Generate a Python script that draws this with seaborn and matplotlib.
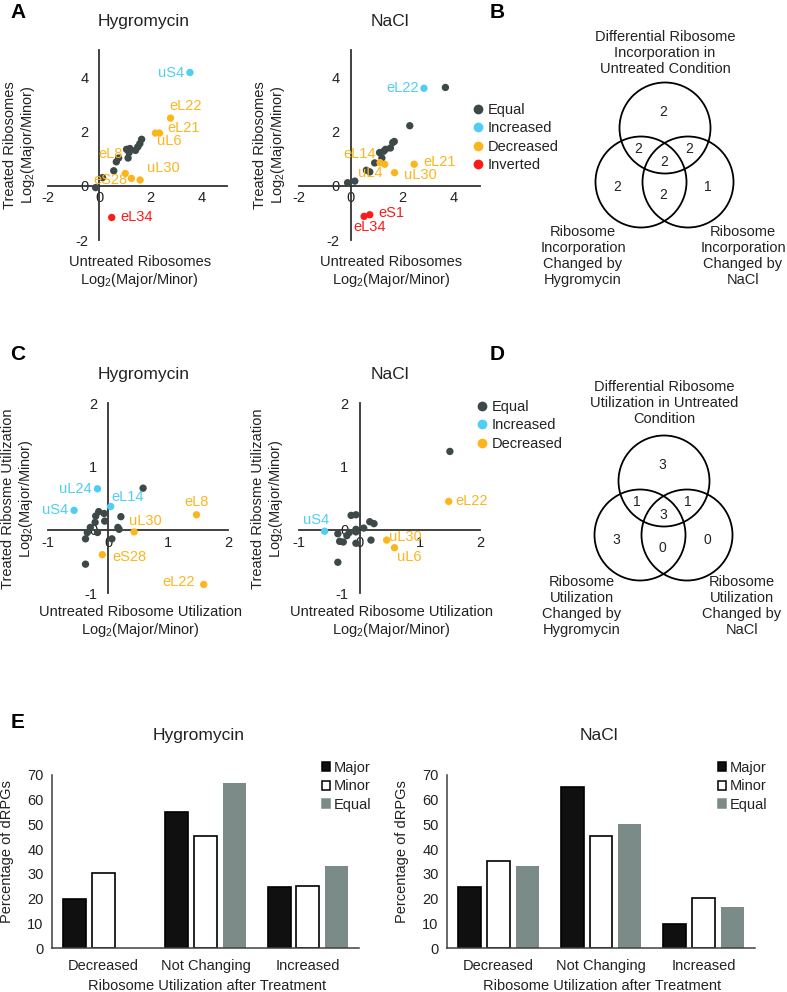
import matplotlib
matplotlib.use("Agg")
import matplotlib.pyplot as plt
from matplotlib.lines import Line2D
from matplotlib.patches import Circle, Patch
import pandas as pd
import seaborn as sns

# ---------------- data ----------------
CATS_A = ["Equal", "Increased", "Decreased", "Inverted"]
CATS_C = ["Equal", "Increased", "Decreased"]

# A - Hygromycin (incorporation)
A_HYG_X = [1.65, 1.58, 1.50, 1.41, 1.19, 1.06, 1.16, 1.12, 0.75, 0.66, 0.56, 0.12, -0.15,
           3.54, 2.78, 2.19, 2.35, 1.01, 1.25, 1.59, 0.48]
A_HYG_Y = [1.71, 1.55, 1.43, 1.30, 1.37, 1.34, 1.22, 1.02, 1.02, 0.88, 0.55, 0.30, -0.07,
           4.17, 2.49, 1.94, 1.94, 0.45, 0.27, 0.21, -1.17]
A_HYG_CAT = ["Equal"] * 13 + ["Increased"] + ["Decreased"] * 6 + ["Inverted"]
A_HYG_LABEL = [""] * 13 + ["uS4", "eL22", "eL21", "uL6", "eL8", "eS28", "uL30", "eL34"]

# A - NaCl (incorporation)
A_NACL_X = [3.66, 2.28, 1.68, 1.62, 1.53, 1.34, 1.27, 1.11, 1.20, 0.92, 0.73, 0.60, 0.15, -0.13,
            2.83, 1.13, 1.31, 1.69, 2.45, 0.73, 0.51]
A_NACL_Y = [3.62, 2.21, 1.63, 1.59, 1.39, 1.34, 1.27, 1.22, 1.02, 0.84, 0.51, 0.57, 0.17, 0.11,
            3.59, 0.85, 0.79, 0.48, 0.79, -1.07, -1.13]
A_NACL_CAT = ["Equal"] * 14 + ["Increased"] + ["Decreased"] * 4 + ["Inverted"] * 2
A_NACL_LABEL = [""] * 14 + ["eL22", "eL14", "uL4", "uL30", "eL21", "eS1", "eL34"]

# C - Hygromycin (utilization)
C_HYG_X = [0.58, -0.16, -0.21, -0.07, -0.06, -0.22, -0.30, -0.35, -0.38, -0.18, 0.06, 0.21, 0.16, 0.18, -0.38,
           -0.18, 0.04, -0.57, 1.47, 0.43, -0.10, 1.59]
C_HYG_Y = [0.66, 0.29, 0.22, 0.26, 0.14, 0.12, 0.04, -0.04, -0.14, -0.04, -0.14, 0.21, 0.04, 0.01, -0.54,
           0.65, 0.37, 0.31, 0.24, -0.03, -0.39, -0.86]
C_HYG_CAT = ["Equal"] * 15 + ["Increased"] * 3 + ["Decreased"] * 4
C_HYG_LABEL = [""] * 15 + ["uL24", "eL14", "uS4", "eL8", "uL30", "eS28", "eL22"]

# C - NaCl (utilization)
C_NACL_X = [1.50, -0.14, -0.06, 0.17, 0.24, 0.07, -0.06, -0.06, -0.17, -0.21, -0.36, -0.33, -0.27, -0.06, 0.19, -0.36,
            -0.58, 1.48, 0.45, 0.58]
C_NACL_Y = [1.24, 0.23, 0.24, 0.13, 0.10, 0.03, 0.01, -0.03, -0.04, -0.09, -0.06, -0.18, -0.19, -0.21, -0.16, -0.51,
            -0.02, 0.45, -0.16, -0.28]
C_NACL_CAT = ["Equal"] * 16 + ["Increased"] + ["Decreased"] * 3
C_NACL_LABEL = [""] * 16 + ["uS4", "eL22", "uL30", "uL6"]

# B / D venn counts: top, top&left, top&right, all, left, left&right, right
B_COUNTS = [2, 2, 2, 2, 2, 2, 1]
D_COUNTS = [3, 1, 1, 3, 3, 0, 0]

# E - percentage of dRPGs
OUTCOMES = ["Decreased", "Not Changing", "Increased"]
GROUPS = ["Major", "Minor", "Equal"]
E_HYG_MAJOR = [19.8, 54.9, 24.6]
E_HYG_MINOR = [30.3, 45.5, 24.9]
E_HYG_EQUAL = [0.0, 66.7, 33.3]
E_NACL_MAJOR = [24.6, 65.1, 9.7]
E_NACL_MINOR = [35.2, 45.4, 20.1]
E_NACL_EQUAL = [33.1, 50.1, 16.4]

# ---------------- style ----------------
sns.set_theme(style="white")
plt.rcParams["font.family"] = ["Liberation Sans", "DejaVu Sans"]
plt.rcParams["mathtext.fontset"] = "custom"
plt.rcParams["mathtext.rm"] = "Liberation Sans"
plt.rcParams["axes.unicode_minus"] = False

DOT = {"Equal": "#3d4848", "Increased": "#50cdf3", "Decreased": "#fdb51e", "Inverted": "#ff1a1a"}
BAR = {"Major": "#101010", "Minor": "#ffffff", "Equal": "#7a8b88"}
INK = "#222222"
AXC = "#333333"
LOG2 = "Log$_{\\mathregular{2}}$(Major/Minor)"

W, H = 787, 992
fig = plt.figure(figsize=(W / 100, H / 100), dpi=100)


def px_axes(left, top, right, bottom):
    return fig.add_axes([left / W, 1 - bottom / H, (right - left) / W, (bottom - top) / H])


# label offsets (points) and alignment
OFF_A_HYG = {"uS4": (-4, 0, "right"), "eL22": (-1, 9, "left"), "eL21": (8.5, 3.5, "left"),
             "uL6": (-2, -6, "left"), "eL8": (-1.5, 14, "right"), "eS28": (-3, -1, "right"),
             "uL30": (5, 8.5, "left"), "eL34": (6, 0, "left")}
OFF_A_NACL = {"eL22": (-4, 0, "right"), "eL14": (-3, 6, "right"), "uL4": (-1.5, -6.5, "right"),
              "uL30": (6.5, -1.5, "left"), "eL21": (6.5, 1.5, "left"), "eS1": (6.5, 1.5, "left"),
              "eL34": (-8, -8, "left")}
OFF_C_HYG = {"uL24": (-4.5, 0, "right"), "eL14": (0.5, 7, "left"), "uS4": (-4, 0, "right"),
             "eL8": (0, 9.5, "center"), "uL30": (-4, 8, "left"), "eS28": (7, -1.5, "left"),
             "eL22": (-6, 1.5, "right")}
OFF_C_NACL = {"uS4": (3, 8, "right"), "eL22": (4.5, 0, "left"), "uL30": (2, 2, "left"),
              "uL6": (2, -6.5, "left")}


def scatter_panel(ax, xs, ys, cats, labels, order, lim, ticks, title, title_x, ylab,
                  ylab_x, xlab, xlab_y, offsets):
    df = pd.DataFrame({"x": xs, "y": ys, "cat": cats, "label": labels})
    sns.scatterplot(data=df, x="x", y="y", hue="cat", hue_order=order, palette=DOT,
                    s=28, linewidth=0, legend=False, ax=ax, zorder=3)
    for _, r in df[df["label"] != ""].iterrows():
        dx, dy, ha = offsets[r["label"]]
        ax.annotate(r["label"], (r["x"], r["y"]), xytext=(dx, dy), textcoords="offset points",
                    ha=ha, va="center", color=DOT[r["cat"]], fontsize=10.5)
    ax.set_xlim(*lim[0])
    ax.set_ylim(*lim[1])
    ax.set_xticks(ticks[0])
    ax.set_yticks(ticks[1])
    for side in ("top", "right"):
        ax.spines[side].set_visible(False)
    for side in ("left", "bottom"):
        ax.spines[side].set_position(("data", 0))
        ax.spines[side].set_color(AXC)
        ax.spines[side].set_linewidth(1.3)
    ax.tick_params(axis="both", direction="inout", length=6, width=1.2, color=AXC,
                   labelsize=10.5, labelcolor=INK)
    ax.tick_params(axis="x", pad=1)
    ax.tick_params(axis="y", pad=5)
    ax.set_facecolor("none")
    ax.set_xlabel("")
    ax.set_ylabel("")
    ax.text(title_x, 1.15, title, transform=ax.transAxes, ha="center", va="center",
            fontsize=12.5, color=INK)
    ax.set_ylabel(ylab, fontsize=10.5, color=INK, linespacing=1.15)
    ax.yaxis.set_label_coords(ylab_x, 0.5)
    ax.set_xlabel(xlab, fontsize=10.5, color=INK, linespacing=1.15)
    ax.xaxis.set_label_coords(0.51, xlab_y)


def dot_legend(ax, order, anchor):
    handles = [Line2D([], [], marker="o", ls="", color=DOT[c], markersize=6, label=c) for c in order]
    ax.legend(handles=handles, loc="upper left", bbox_to_anchor=anchor, bbox_transform=fig.transFigure,
              frameon=False, fontsize=10.5, handlelength=0.8, handletextpad=0.25,
              labelspacing=0.3, borderpad=0, borderaxespad=0, labelcolor=INK)


# ---- A ----
ax = px_axes(48.3, 50, 227.3, 240)
scatter_panel(ax, A_HYG_X, A_HYG_Y, A_HYG_CAT, A_HYG_LABEL, CATS_A, ((-2, 5), (-2, 5)),
              ([-2, 0, 2, 4], [-2, 0, 2, 4]), "Hygromycin", 0.53,
              "Treated Ribosomes\n" + LOG2, -0.063, "Untreated Ribosomes\n" + LOG2, -0.08, OFF_A_HYG)
ax = px_axes(299.3, 50, 480, 240)
scatter_panel(ax, A_NACL_X, A_NACL_Y, A_NACL_CAT, A_NACL_LABEL, CATS_A, ((-2, 5), (-2, 5)),
              ([-2, 0, 2, 4], [-2, 0, 2, 4]), "NaCl", 0.5,
              "Treated Ribosomes\n" + LOG2, -0.068, "Untreated Ribosomes\n" + LOG2, -0.08, OFF_A_NACL)
dot_legend(ax, CATS_A, (472 / W, 1 - 103 / H))

# ---- C ----
ax = px_axes(48.3, 403.3, 228.3, 593.3)
scatter_panel(ax, C_HYG_X, C_HYG_Y, C_HYG_CAT, C_HYG_LABEL, CATS_C, ((-1, 2), (-1, 2)),
              ([-1, 0, 1, 2], [-1, 0, 1, 2]), "Hygromycin", 0.53,
              "Treated Ribosme Utilization\n" + LOG2, -0.074,
              "Untreated Ribosome Utilization\n" + LOG2, -0.062, OFF_C_HYG)
ax = px_axes(299.3, 403.3, 480, 593.3)
scatter_panel(ax, C_NACL_X, C_NACL_Y, C_NACL_CAT, C_NACL_LABEL, CATS_C, ((-1, 2), (-1, 2)),
              ([-1, 0, 1, 2], [-1, 0, 1, 2]), "NaCl", 0.5,
              "Treated Ribosme Utilization\n" + LOG2, -0.079,
              "Untreated Ribosome Utilization\n" + LOG2, -0.062, OFF_C_NACL)
dot_legend(ax, CATS_C, (476 / W, 1 - 400 / H))


# ---- E ----
def bar_panel(ax, major, minor, equal, title, title_x, legend_anchor):
    df = pd.DataFrame({
        "outcome": OUTCOMES * 3,
        "group": ["Major"] * 3 + ["Minor"] * 3 + ["Equal"] * 3,
        "pct": major + minor + equal,
    })
    sns.barplot(data=df, x="outcome", y="pct", hue="group", order=OUTCOMES, hue_order=GROUPS,
                palette=BAR, saturation=1, width=0.84, gap=0.2, edgecolor="black",
                linewidth=1.2, legend=False, ax=ax)
    for bar in ax.containers[2]:
        bar.set_edgecolor(BAR["Equal"])
        bar.set_linewidth(0)
    ax.set_xlim(-0.5, 2.5)
    ax.set_ylim(0, 70)
    ax.set_yticks(range(0, 71, 10))
    for side in ("top", "right"):
        ax.spines[side].set_visible(False)
    for side in ("left", "bottom"):
        ax.spines[side].set_color("#404040")
        ax.spines[side].set_linewidth(1.1)
    ax.tick_params(axis="y", direction="out", length=4, width=1, color="#404040",
                   labelsize=10.5, labelcolor=INK, pad=2)
    ax.tick_params(axis="x", length=0, labelsize=10.5, labelcolor=INK, pad=8)
    ax.set_ylabel("Percentage of dRPGs", fontsize=10.5, color=INK)
    ax.yaxis.set_label_coords(-0.124, 0.555)
    ax.set_xlabel("Ribosome Utilization after Treatment", fontsize=10.5, color=INK)
    ax.xaxis.set_label_coords(0.505, -0.182)
    ax.text(title_x, 1.23, title, transform=ax.transAxes, ha="center", va="center",
            fontsize=12.5, color=INK)
    handles = [Patch(facecolor=BAR[g], edgecolor="black" if g != "Equal" else BAR[g],
                     linewidth=1.1, label=g) for g in GROUPS]
    ax.legend(handles=handles, loc="upper left", bbox_to_anchor=legend_anchor,
              bbox_transform=fig.transFigure, frameon=False, fontsize=10.5,
              handlelength=0.55, handleheight=0.55, handletextpad=0.25,
              labelspacing=0.3, borderpad=0, borderaxespad=0, labelcolor=INK)


ax = px_axes(52, 775, 359, 948)
bar_panel(ax, E_HYG_MAJOR, E_HYG_MINOR, E_HYG_EQUAL, "Hygromycin", 0.476, (322 / W, 1 - 761 / H))
ax = px_axes(447, 775, 755, 948)
bar_panel(ax, E_NACL_MAJOR, E_NACL_MINOR, E_NACL_EQUAL, "NaCl", 0.494, (718 / W, 1 - 761 / H))

# ---- overlay: venn diagrams and panel letters (pixel coordinates) ----
ov = fig.add_axes([0, 0, 1, 1])
ov.set_xlim(0, W)
ov.set_ylim(H, 0)
ov.axis("off")
ov.set_facecolor("none")

VENN_R = 45.5
VENN_CIRCLES = [(0, 0), (-24, 54), (23, 54)]
VENN_SPOTS = [(-2, -16), (-27, 21), (24, 21), (-1, 34), (-48, 59), (-2, 67), (43, 59)]


def venn(cx, cy, counts, title, left_text, right_text, title_dy, label_dy):
    for dx, dy in VENN_CIRCLES:
        ov.add_patch(Circle((cx + dx, cy + dy), VENN_R, fill=False, ec="black", lw=1.3))
    for (dx, dy), n in zip(VENN_SPOTS, counts):
        ov.text(cx + dx, cy + dy, str(n), ha="center", va="center", fontsize=10, color=INK)
    kw = dict(ha="center", va="center", fontsize=10.5, color=INK, linespacing=1.2)
    ov.text(cx, cy - title_dy, title, **kw)
    ov.text(cx - 82, cy + label_dy, left_text, **kw)
    ov.text(cx + 78, cy + label_dy, right_text, **kw)


venn(665, 128, B_COUNTS, "Differential Ribosome\nIncorporation in\nUntreated Condition",
     "Ribosome\nIncorporation\nChanged by\nHygromycin", "Ribosome\nIncorporation\nChanged by\nNaCl", 75, 128)
venn(664, 481, D_COUNTS, "Differential Ribosome\nUtilization in Untreated\nCondition",
     "Ribosome\nUtilization\nChanged by\nHygromycin", "Ribosome\nUtilization\nChanged by\nNaCl", 78, 125)

for letter, x, y in [("A", 18, 13), ("B", 497, 12), ("C", 18, 354), ("D", 497, 355), ("E", 18, 722)]:
    ov.text(x, y, letter, ha="center", va="center", fontsize=15, fontweight="bold", color="black")

fig.savefig("out.png", dpi=100)
